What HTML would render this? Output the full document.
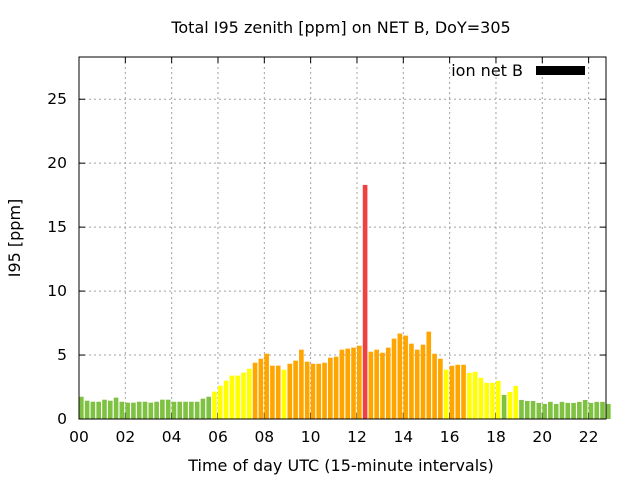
<!DOCTYPE html>
<html><head><meta charset="utf-8"><style>
body{margin:0;background:#fff;}
svg{display:block;font-family:"DejaVu Sans","Liberation Sans",sans-serif;}
</style></head><body>
<svg id="c" width="640" height="480"></svg>
<script>
const values=[1.74,1.43,1.35,1.35,1.51,1.43,1.67,1.35,1.28,1.28,1.35,1.35,1.28,1.35,1.51,1.51,1.35,1.35,1.35,1.35,1.35,1.59,1.74,2.14,2.6,3.0,3.39,3.39,3.62,3.93,4.4,4.71,5.1,4.17,4.17,3.85,4.32,4.56,5.42,4.48,4.32,4.32,4.4,4.79,4.87,5.42,5.5,5.58,5.73,18.3,5.26,5.42,5.18,5.58,6.28,6.68,6.52,5.89,5.42,5.81,6.83,5.1,4.71,3.85,4.16,4.24,4.24,3.61,3.69,3.22,2.83,2.83,2.98,1.88,2.12,2.59,1.49,1.41,1.41,1.26,1.18,1.34,1.18,1.34,1.26,1.26,1.34,1.49,1.26,1.34,1.34,1.18];
const yTicks=[0,5,10,15,20,25];
const xTickLabels=["00","02","04","06","08","10","12","14","16","18","20","22"];
const xTickHours=[0,2,4,6,8,10,12,14,16,18,20,22];
const L=79,R=606,T=57,B=419,YMAX=28.3,XMAX=22.75;
const NS="http://www.w3.org/2000/svg";
const svg=document.getElementById('c');
const X=h=>L+(h/XMAX)*(R-L);
const Y=v=>B-(v/YMAX)*(B-T);
function mk(t,a){const e=document.createElementNS(NS,t);for(const k in a)e.setAttribute(k,a[k]);svg.appendChild(e);return e;}
function col(v){return v<2?"#7fc241":v<4?"#ffff00":v<10?"#ffa500":"#f04040";}
yTicks.forEach(v=>{if(v>0){const g=mk('line',{x1:L,x2:R,y1:Y(v),y2:Y(v),stroke:"#a0a0a0","stroke-dasharray":"2,3"});
}
mk('line',{x1:L,x2:L+6,y1:Y(v),y2:Y(v),stroke:"#000"});mk('line',{x1:R-6,x2:R,y1:Y(v),y2:Y(v),stroke:"#000"});
const t=mk('text',{x:L-12,y:Y(v)+5,"text-anchor":"end","font-size":"15.5"});t.textContent=v;
});
xTickHours.forEach((h,i)=>{const x=X(h);if(h>0){const g=mk('line',{x1:x,x2:x,y1:T,y2:B,stroke:"#a0a0a0","stroke-dasharray":"2,3"});
}
mk('line',{x1:x,x2:x,y1:B,y2:B-6,stroke:"#000"});mk('line',{x1:x,x2:x,y1:T,y2:T+6,stroke:"#000"});
const t=mk('text',{x:x,y:B+23,"text-anchor":"middle","font-size":"15.5"});t.textContent=xTickLabels[i];
});
const bw=(R-L)/XMAX*0.25;
values.forEach((v,i)=>{const r=mk('rect',{x:X(i*0.25),y:Y(v),width:bw*0.8,height:B-Y(v),fill:col(v)});
});
const f=mk('rect',{x:L,y:T,width:R-L,height:B-T,fill:"none",stroke:"#000","stroke-width":"1"});

let t=mk('text',{x:341,y:33,"text-anchor":"middle","font-size":"16"});t.textContent="Total I95 zenith [ppm] on NET B, DoY=305";

t=mk('text',{x:341,y:471,"text-anchor":"middle","font-size":"16"});t.textContent="Time of day UTC (15-minute intervals)";

t=mk('text',{x:20,y:238,"text-anchor":"middle","font-size":"16",transform:"rotate(-90 20 238)"});t.textContent="I95 [ppm]";

t=mk('text',{x:523,y:76,"text-anchor":"end","font-size":"16"});t.textContent="ion net B";

const lb=mk('rect',{x:536,y:66,width:49,height:9,fill:"#000"});

</script>
</body></html>
